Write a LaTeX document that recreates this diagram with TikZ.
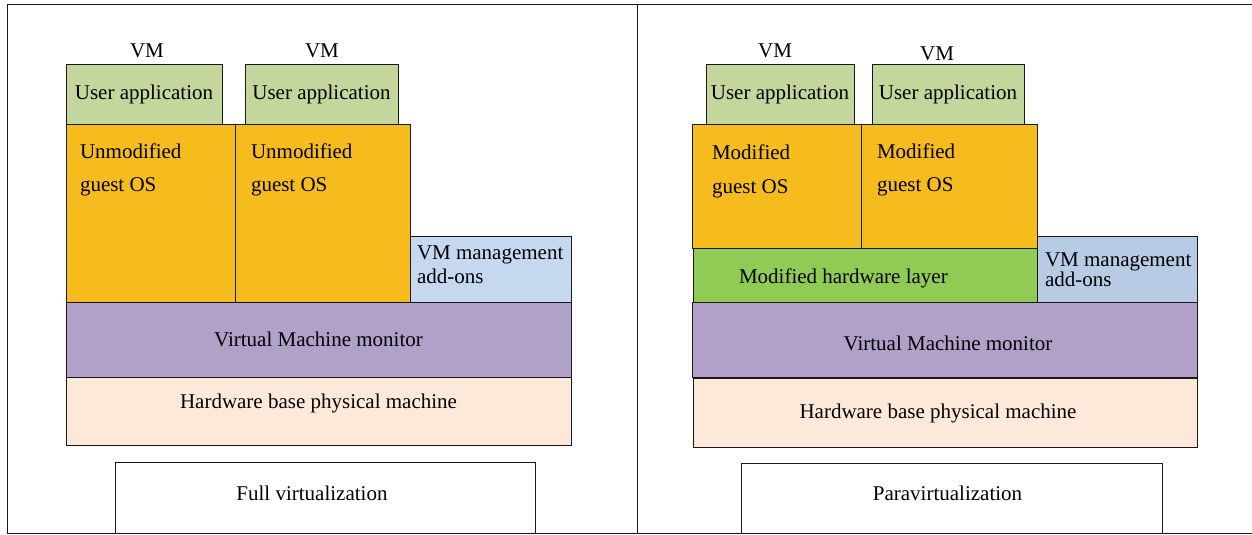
\documentclass[tikz,border=0pt]{standalone}
\usepackage{fontspec}
\setmainfont{Liberation Serif}
\usetikzlibrary{positioning, calc}
\definecolor{appgreen}{HTML}{C3D69B}
\definecolor{osorange}{HTML}{F6BB1D}
\definecolor{mgmtblue}{HTML}{C6D8EF}
\definecolor{mgmtblueb}{HTML}{B8CBE4}
\definecolor{vmmpurple}{HTML}{B1A0C7}
\definecolor{hwpeach}{HTML}{FDE9DA}
\definecolor{hwgreen}{HTML}{8FCB55}

\begin{document}
\begin{tikzpicture}[x=1pt, y=-1pt,
			layer/.style={shape=rectangle,
				draw=black!90,
				line width=1pt,
				inner sep=0, outer sep=0,
			font=\fontsize{21}{25}\selectfont},
			txt/.style ={inner sep =0, outer sep =0, font=\fontsize{21}{25}\selectfont, text=black}]
			\useasboundingbox (0, 0) rectangle (1252, 535);
			\draw[line width=1pt, black!90] (7, 5) rectangle (1270, 533);
			\draw[line width=1pt, black!90] (637, 5) -- (637, 533);

			% full virtualization
			\node[layer, fill=appgreen, minimum width=156pt, minimum height=59pt] at (144, 94.5) (LU1){User application};
			\node[layer, fill=appgreen, minimum width=153pt, minimum height=59pt] at (321.5, 94.5) (LU2){User application};
			\node[layer, fill=osorange, minimum width=169pt, minimum height=178pt] at (150.5, 213) (LG1){};
			\node[layer, fill=osorange, minimum width=175pt, minimum height=178pt] at (322.5, 213) (LG2){};
			\node[layer, fill=mgmtblue, minimum width=161pt, minimum height=66pt] at (490.5, 269) (LM){};
			\node[layer, fill=vmmpurple, minimum width=505pt, minimum height=75pt] at (318.5, 339.5) (LV){Virtual Machine monitor};
			\node[layer, fill=hwpeach, minimum width=505pt, minimum height=68pt] at (318.5, 411) (LH){};
			\node[layer, fill=white, minimum width=420pt, minimum height=71pt] at (325, 497.5) (LF){};

			\node[txt, anchor=base] at ([xshift=3pt, yshift=7pt]LU1.north) (LVM1){VM};
			\node[txt, anchor=base] at ([xshift=0.5pt, yshift=7pt]LU2.north) (LVM2){VM};
			\node[txt, anchor=north west, align=left] at ([xshift=14pt, yshift=-20pt]LG1.north west) (LG1t){Unmodified\\[8pt]guest OS};
			\node[txt, anchor=north west, align=left] at ([xshift=16pt, yshift=-20pt]LG2.north west) (LG2t){Unmodified\\[8pt]guest OS};
			\node[txt, anchor=north west, align=left] at ([xshift=7pt, yshift=-10pt]LM.north west) (LMt){VM management\\[-1pt]add-ons};
			\node[txt, anchor=base] at ([yshift=-31pt]LH.north) (LHt){Hardware base physical machine};
			\node[txt, anchor=base] at ([xshift=-13pt, yshift=-38pt]LF.north) (LFt){Full virtualization};

			% paravirtualization
			\node[layer, fill=appgreen, minimum width=148pt, minimum height=59pt] at (780, 94.5) (RU1){User application};
			\node[layer, fill=appgreen, minimum width=152pt, minimum height=59pt] at (948, 94.5) (RU2){User application};
			\node[layer, fill=osorange, minimum width=169pt, minimum height=124pt] at (776.5, 186) (RG1){};
			\node[layer, fill=osorange, minimum width=176pt, minimum height=124pt] at (949, 186) (RG2){};
			\node[layer, fill=hwgreen, minimum width=344pt, minimum height=54pt] at (865, 275) (RW){};
			\node[layer, fill=mgmtblueb, minimum width=160pt, minimum height=66pt] at (1117, 269) (RM){};
			\node[layer, fill=vmmpurple, minimum width=505pt, minimum height=75pt] at (944.5, 339.5) (RV){};
			\node[layer, fill=hwpeach, minimum width=504pt, minimum height=69pt] at (945, 412.5) (RH){};
			\node[layer, fill=white, minimum width=421pt, minimum height=70pt] at (951.5, 498) (RP){};

			\node[txt, anchor=base] at ([xshift=-5pt, yshift=7pt]RU1.north) (RVM1){VM};
			\node[txt, anchor=base] at ([xshift=-11pt, yshift=5pt]RU2.north) (RVM2){VM};
			\node[txt, anchor=north west, align=left] at ([xshift=20pt, yshift=-21pt]RG1.north west) (RG1t){Modified\\[9pt]guest OS};
			\node[txt, anchor=north west, align=left] at ([xshift=16pt, yshift=-20pt]RG2.north west) (RG2t){Modified\\[8pt]guest OS};
			\node[txt, anchor=base west] at ([xshift=46pt, yshift=-35pt]RW.north west) (RWt){Modified hardware layer};
			\node[txt, anchor=north west, align=left] at ([xshift=8pt, yshift=-17pt]RM.north west) (RMt){VM management\\[-5pt]add-ons};
			\node[txt, anchor=base] at ([xshift=3.5pt, yshift=-48pt]RV.north) (RVt){Virtual Machine monitor};
			\node[txt, anchor=base] at ([xshift=-7pt, yshift=-40pt]RH.north) (RHt){Hardware base physical machine};
			\node[txt, anchor=base] at ([xshift=-4pt, yshift=-37pt]RP.north) (RPt){Paravirtualization};
		\end{tikzpicture}
\end{document}
